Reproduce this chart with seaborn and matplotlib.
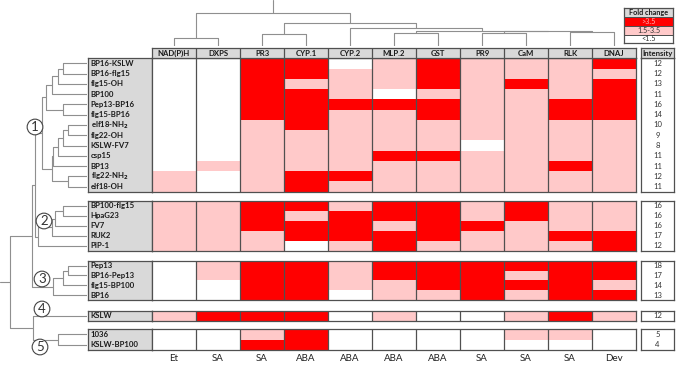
import numpy as np
import matplotlib
matplotlib.use("Agg")
import matplotlib.pyplot as plt
from matplotlib.colors import ListedColormap
import seaborn as sns

sns.set_style("white")
plt.rcParams['font.family'] = ['Lato', 'DejaVu Sans']
plt.rcParams['mathtext.default'] = 'bf'

# DATA
genes = ["NAD(P)H", "DXPS", "PR3", "CYP.1", "CYP.2", "MLP.2", "GST", "PR9", "CaM", "RLK", "DNAJ"]
hormones = ["Et", "SA", "SA", "ABA", "ABA", "ABA", "ABA", "SA", "SA", "SA", "Dev"]

# fold change class: 0 = <1.5, 1 = 1.5-3.5, 2 = >3.5
group1_names = ["BP16-KSLW", "BP16-flg15", "flg15-OH", "BP100", "Pep13-BP16", "flg15-BP16",
                "elf18-NH$_2$", "flg22-OH", "KSLW-FV7", "csp15", "BP13", "flg22-NH$_2$", "elf18-OH"]
group1_values = [
    [0, 0, 2, 2, 0, 1, 2, 1, 1, 1, 2],
    [0, 0, 2, 2, 1, 1, 2, 1, 1, 1, 1],
    [0, 0, 2, 1, 1, 1, 2, 1, 2, 1, 2],
    [0, 0, 2, 2, 1, 0, 1, 1, 1, 1, 2],
    [0, 0, 2, 2, 2, 2, 2, 1, 1, 2, 2],
    [0, 0, 2, 2, 1, 1, 2, 1, 1, 2, 2],
    [0, 0, 1, 2, 1, 1, 1, 1, 1, 1, 1],
    [0, 0, 1, 1, 1, 1, 1, 1, 1, 1, 1],
    [0, 0, 1, 1, 1, 1, 1, 0, 1, 1, 1],
    [0, 0, 1, 1, 1, 2, 2, 1, 1, 1, 1],
    [0, 1, 1, 1, 1, 1, 1, 1, 1, 2, 1],
    [1, 0, 1, 2, 2, 1, 1, 1, 1, 1, 1],
    [1, 0, 1, 2, 1, 1, 1, 1, 1, 1, 1],
]
group1_intensity = [12, 12, 13, 11, 16, 14, 10, 9, 8, 11, 11, 12, 11]

group2_names = ["BP100-flg15", "HpaG23", "FV7", "RUK2", "PIP-1"]
group2_values = [
    [1, 1, 2, 2, 1, 2, 2, 1, 2, 1, 1],
    [1, 1, 2, 1, 2, 2, 2, 1, 2, 1, 1],
    [1, 1, 2, 2, 2, 1, 2, 2, 1, 1, 1],
    [1, 1, 1, 2, 2, 2, 2, 1, 1, 2, 2],
    [1, 1, 1, 0, 1, 2, 1, 1, 1, 1, 2],
]
group2_intensity = [16, 16, 16, 17, 12]

group3_names = ["Pep13", "BP16-Pep13", "flg15-BP100", "BP16"]
group3_values = [
    [0, 1, 2, 2, 1, 2, 2, 2, 2, 2, 2],
    [0, 1, 2, 2, 1, 2, 2, 2, 1, 2, 2],
    [0, 0, 2, 2, 1, 1, 2, 2, 2, 2, 1],
    [0, 0, 2, 2, 0, 1, 1, 2, 1, 2, 2],
]
group3_intensity = [18, 17, 14, 13]

group4_names = ["KSLW"]
group4_values = [[1, 2, 2, 2, 0, 1, 0, 0, 1, 2, 1]]
group4_intensity = [12]

group5_names = ["1036", "KSLW-BP100"]
group5_values = [
    [0, 0, 1, 2, 0, 0, 0, 0, 1, 1, 0],
    [0, 0, 2, 2, 0, 0, 0, 0, 0, 0, 0],
]
group5_intensity = [5, 4]

group_labels = ["1", "2", "3", "4", "5"]
legend_labels = ["Fold change", ">3.5", "1.5-3.5", "<1.5"]

# column tree: (left, right, height); leaves 0..10, new nodes from 11
col_links = [(0, 1, 8), (2, 3, 12), (5, 6, 12.7), (7, 8, 13), (9, 10, 13.7),
             (14, 15, 15), (13, 16, 15.3), (4, 17, 18.3), (12, 18, 23.3), (11, 19, 33.3)]
# row tree: leaves 0..24, new nodes from 25
row_links = [(0, 1, 24), (25, 2, 29), (26, 3, 35), (4, 5, 24), (27, 28, 41),
             (6, 7, 19), (30, 8, 24), (31, 9, 29), (32, 10, 34), (11, 12, 19),
             (33, 34, 35), (29, 35, 45), (13, 14, 24), (37, 15, 32), (38, 16, 35),
             (39, 17, 49), (36, 40, 52), (18, 19, 19), (42, 20, 24), (43, 21, 34),
             (41, 44, 55), (23, 24, 29), (22, 46, 54), (45, 47, 77)]

# STYLE
W, H = 677, 366
RED, PINK, GREY = "#ff0000", "#ffc9c9", "#d9d9d9"
EDGE = "#505050"
TREE = "#8f8f8f"
cmap = ListedColormap(["white", PINK, RED])

fig = plt.figure(figsize=(W / 100, H / 100), dpi=100)


def px_axes(x, y, w, h):
    return fig.add_axes([x / W, 1 - (y + h) / H, w / W, h / H])


def frame(ax, color=EDGE, lw=0.9):
    for s in ax.spines.values():
        s.set_visible(True)
        s.set_color(color)
        s.set_linewidth(lw)


def draw_tree(ax, links, leaf_pos, vertical):
    pos = dict(enumerate(leaf_pos))
    hgt = {i: 0 for i in range(len(leaf_pos))}
    n = len(leaf_pos)
    for k, (a, b, h) in enumerate(links):
        xs = [pos[a], pos[a], pos[b], pos[b]]
        ys = [hgt[a], h, h, hgt[b]]
        if vertical:
            ax.plot(xs, ys, color=TREE, lw=0.8)
        else:
            ax.plot(ys, xs, color=TREE, lw=0.8)
        pos[n + k] = (pos[a] + pos[b]) / 2
        hgt[n + k] = h
    return pos[n + len(links) - 1], hgt[n + len(links) - 1]


groups = [
    (group1_names, group1_values, group1_intensity, 58.3, 10.26),
    (group2_names, group2_values, group2_intensity, 201.0, 10.0),
    (group3_names, group3_values, group3_intensity, 260.7, 9.85),
    (group4_names, group4_values, group4_intensity, 310.7, 10.0),
    (group5_names, group5_values, group5_intensity, 329.3, 10.35),
]

leaf_y = []
for gi, (names, values, inten, top, rh) in enumerate(groups):
    n = len(names)
    leaf_y += [top + rh * (i + 0.5) for i in range(n)]

    # row labels
    axl = px_axes(88, top, 64, n * rh)
    axl.set_facecolor(GREY)
    axl.set_xlim(0, 1)
    axl.set_ylim(n, 0)
    axl.set_xticks([])
    axl.set_yticks([])
    for i, name in enumerate(names):
        axl.text(0.04, i + 0.5, name, va="center", ha="left", fontsize=5.6,
                 fontweight="bold", color="#1a1a1a")
    frame(axl)

    # fold change cells
    ax = px_axes(152, top, 484, n * rh)
    sns.heatmap(np.array(values), ax=ax, cmap=cmap, vmin=-0.5, vmax=2.5, cbar=False,
                xticklabels=False, yticklabels=False)
    for c in range(1, len(genes)):
        ax.axvline(c, color=EDGE, lw=0.9)
    frame(ax)
    if gi == len(groups) - 1:
        ax.set_xticks(np.arange(len(genes)) + 0.5)
        ax.set_xticklabels(hormones, fontsize=7, color="#222222")
        ax.tick_params(axis="x", length=0, pad=3, bottom=True)

    # intensity
    axi = px_axes(641, top, 33, n * rh)
    sns.heatmap(np.array(inten).reshape(-1, 1), ax=axi, cmap=ListedColormap(["white"]),
                annot=True, fmt="d", annot_kws={"fontsize": 5.5, "color": "#333333"},
                cbar=False, xticklabels=False, yticklabels=False)
    frame(axi)

# column headers
axh = px_axes(152, 48, 484, 10.3)
axh.set_facecolor(GREY)
axh.set_xlim(0, len(genes))
axh.set_ylim(0, 1)
axh.set_xticks([])
axh.set_yticks([])
for c, g in enumerate(genes):
    axh.text(c + 0.5, 0.5, g, ha="center", va="center", fontsize=5.6, fontweight="bold",
             color="#1a1a1a")
    if c > 0:
        axh.axvline(c, color=EDGE, lw=0.9)
frame(axh)

axih = px_axes(641, 48, 33, 10.3)
axih.set_facecolor(GREY)
axih.set_xticks([])
axih.set_yticks([])
axih.text(0.5, 0.5, "Intensity", ha="center", va="center", fontsize=5.6,
          fontweight="bold", color="#1a1a1a", transform=axih.transAxes)
frame(axih)

# legend
axg = px_axes(624, 8.3, 49, 35)
sns.heatmap(np.array([[3], [2], [1], [0]]), ax=axg,
            cmap=ListedColormap(["white", PINK, RED, GREY]), vmin=-0.5, vmax=3.5,
            cbar=False, xticklabels=False, yticklabels=False, linewidths=0.6,
            linecolor=EDGE)
legend_colors = ["#1a1a1a", "#ffb0b0", "#333333", "#333333"]
for i, lab in enumerate(legend_labels):
    axg.text(0.5, i + 0.5, lab, ha="center", va="center", fontsize=5.2,
             fontweight="bold" if i == 0 else "normal", color=legend_colors[i])
frame(axg)

# column dendrogram
axc = px_axes(152, 0, 484, 46)
axc.set_xlim(0, len(genes))
axc.set_ylim(0, 46)
axc.axis("off")
rx, rh_ = draw_tree(axc, col_links, [c + 0.5 for c in range(len(genes))], True)
axc.plot([rx, rx], [rh_, 46], color=TREE, lw=0.8)

# row dendrogram
axr = px_axes(0, 0, 87, H)
axr.set_xlim(87, 0)
axr.set_ylim(H, 0)
axr.axis("off")
ry, rd = draw_tree(axr, row_links, leaf_y, False)
axr.plot([rd, 87], [ry, ry], color=TREE, lw=0.8)

# cluster numbers
circle_pos = [(35, 127), (44, 221), (42, 279), (42, 309), (40, 347)]
for lab, (x, y) in zip(group_labels, circle_pos):
    axr.text(87 - x, y, lab, ha="center", va="center", fontsize=9.5, color="#333333",
             bbox=dict(boxstyle="circle,pad=0.14", fc="white", ec="#444444", lw=0.8))

fig.savefig("out.png", dpi=100)
